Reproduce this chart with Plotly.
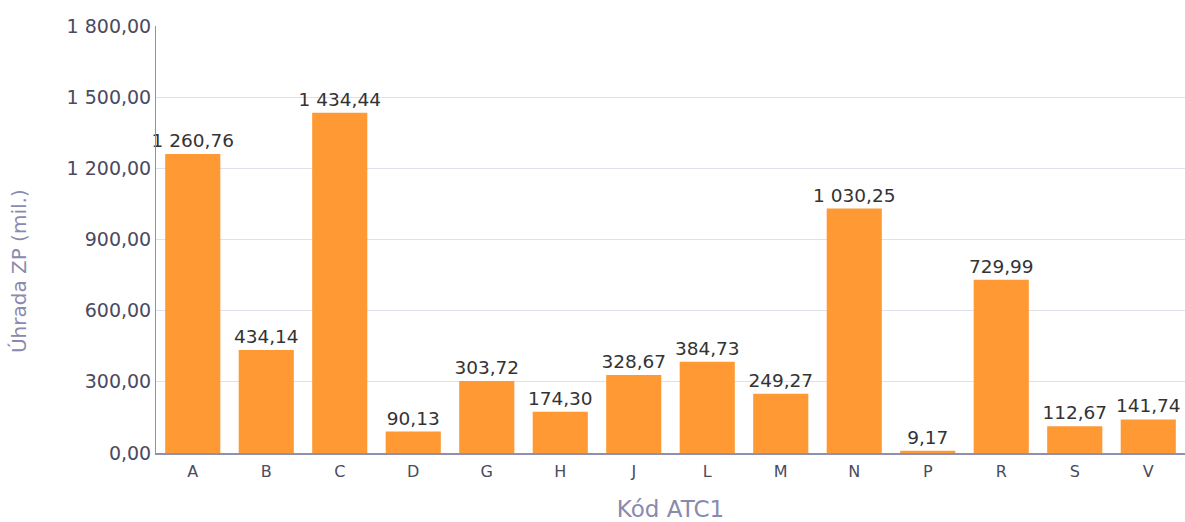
import plotly.graph_objects as go

categories = ["A", "B", "C", "D", "G", "H", "J", "L", "M", "N", "P", "R", "S", "V"]
values = [1260.76, 434.14, 1434.44, 90.13, 303.72, 174.30, 328.67, 384.73, 249.27, 1030.25, 9.17, 729.99, 112.67, 141.74]
y_ticks = [0, 300, 600, 900, 1200, 1500, 1800]

fig = go.Figure(go.Bar(
    x=categories, y=values,
    marker=dict(color="#ff9933", line=dict(width=0)),
    texttemplate="%{y:,.2f}", textposition="outside",
    constraintext="none",
    textfont=dict(family="DejaVu Sans", size=18.5, color="#333333"),
    cliponaxis=False,
))

fig.update_layout(
    width=1185, height=522,
    margin=dict(l=156, r=0, t=26, b=69, autoexpand=False),
    paper_bgcolor="white", plot_bgcolor="white",
    separators=", ",
    bargap=0.25,
    showlegend=False,
    font=dict(family="DejaVu Sans", size=19, color="#4a4a60"),
    xaxis=dict(
        title=dict(text="Kód ATC1", font=dict(size=23, color="#8a8aae"), standoff=27),
        showline=True, linecolor="#8e90b0", linewidth=2,
        ticks="", ticklabelstandoff=3, tickfont=dict(size=16, color="#4a4a60"),
    ),
    yaxis=dict(
        range=[0, 1800], tickvals=y_ticks, tickformat=",.2f",
        showline=True, linecolor="#8e90b0", linewidth=1,
        gridcolor="#e0e0ea", zeroline=False,
        ticks="", tickfont=dict(size=19, color="#4a4a60"),
    ),
    annotations=[dict(
        text="Úhrada ZP (mil.)", textangle=-90,
        xref="paper", yref="paper", x=0, y=0.426,
        xanchor="center", yanchor="middle", xshift=-137,
        showarrow=False, font=dict(size=20, color="#8a8aae"),
    )],
)

fig.write_html(
    "out.html",
    config={"displayModeBar": False},
    post_script="document.body.style.margin='0';document.body.style.overflow='hidden';",
)
